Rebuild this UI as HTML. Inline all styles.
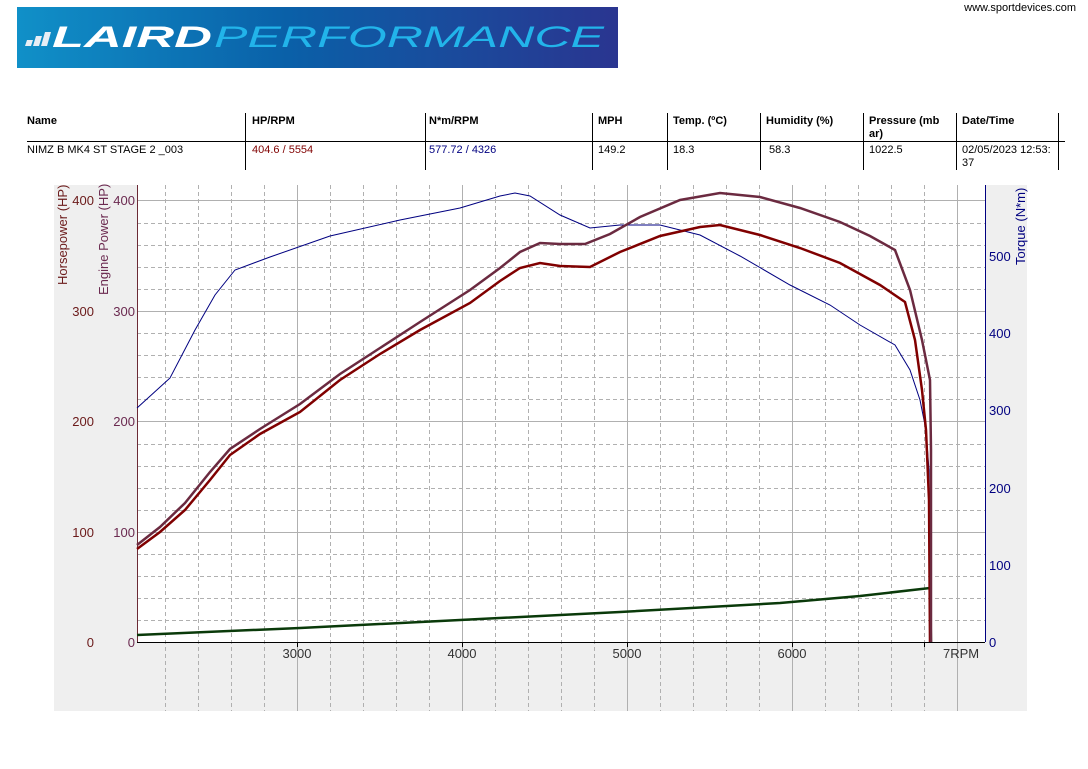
<!DOCTYPE html>
<html><head><meta charset="utf-8"><style>
body{margin:0;background:#fff;width:1088px;height:764px;overflow:hidden;font-family:"Liberation Sans",Arial,sans-serif;}
</style></head><body>
<svg width="1088" height="764" viewBox="0 0 1088 764" xmlns="http://www.w3.org/2000/svg" font-family="Liberation Sans, Arial, sans-serif">
<defs><linearGradient id="lg" x1="0" x2="1" y1="0" y2="0"><stop offset="0" stop-color="#1090c8"/><stop offset="0.45" stop-color="#0a60a8"/><stop offset="1" stop-color="#2a3590"/></linearGradient></defs>
<rect x="17" y="7" width="601" height="61" fill="url(#lg)"/>
<g fill="#e8eef5"><polygon points="25,46 31,46 33,40 27,40"/><polygon points="33,46 39,46 42,36 36,36"/><polygon points="41,46 47,46 51,32 45,32"/></g>
<text x="52" y="47" font-size="30" font-weight="bold" font-style="italic" fill="#ffffff" textLength="160" lengthAdjust="spacingAndGlyphs">LAIRD</text>
<text x="214" y="47" font-size="30" font-style="italic" fill="#22b4ea" textLength="390" lengthAdjust="spacingAndGlyphs">PERFORMANCE</text>
<text x="1076" y="11" font-size="11" fill="#000" text-anchor="end">www.sportdevices.com</text>
<g font-size="11" fill="#000">
<g font-weight="bold"><text x="27" y="124">Name</text><text x="252" y="124">HP/RPM</text><text x="429" y="124">N*m/RPM</text><text x="598" y="124">MPH</text><text x="673" y="124">Temp. (ºC)</text><text x="766" y="124">Humidity (%)</text><text x="869" y="124">Pressure (mb</text><text x="869" y="137">ar)</text><text x="962" y="124">Date/Time</text></g>
<text x="27" y="153">NIMZ B MK4 ST STAGE 2 _003</text><text x="252" y="153" fill="#800000">404.6 / 5554</text><text x="429" y="153" fill="#000080">577.72 / 4326</text><text x="598" y="153">149.2</text><text x="673" y="153">18.3</text><text x="769" y="153">58.3</text><text x="869" y="153">1022.5</text><text x="962" y="153">02/05/2023 12:53:</text><text x="962" y="166">37</text>
</g>
<line x1="27" y1="141.5" x2="1065" y2="141.5" stroke="#000"/>
<g stroke="#000"><line x1="245.5" y1="113" x2="245.5" y2="170"/><line x1="425.5" y1="113" x2="425.5" y2="170"/><line x1="592.5" y1="113" x2="592.5" y2="170"/><line x1="667.5" y1="113" x2="667.5" y2="170"/><line x1="760.5" y1="113" x2="760.5" y2="170"/><line x1="863.5" y1="113" x2="863.5" y2="170"/><line x1="956.5" y1="113" x2="956.5" y2="170"/><line x1="1058.5" y1="113" x2="1058.5" y2="170"/></g>
<rect x="54" y="185" width="973" height="526" fill="#efefef"/>
<rect x="137" y="185" width="848" height="457" fill="#fff"/>
<g stroke="#b0b0b0" stroke-dasharray="4,3">
<line x1="165.5" y1="185" x2="165.5" y2="711"/><line x1="198.5" y1="185" x2="198.5" y2="711"/><line x1="231.5" y1="185" x2="231.5" y2="711"/><line x1="264.5" y1="185" x2="264.5" y2="711"/>
<line x1="330.5" y1="185" x2="330.5" y2="711"/><line x1="363.5" y1="185" x2="363.5" y2="711"/><line x1="396.5" y1="185" x2="396.5" y2="711"/><line x1="429.5" y1="185" x2="429.5" y2="711"/>
<line x1="495.5" y1="185" x2="495.5" y2="711"/><line x1="528.5" y1="185" x2="528.5" y2="711"/><line x1="561.5" y1="185" x2="561.5" y2="711"/><line x1="594.5" y1="185" x2="594.5" y2="711"/>
<line x1="660.5" y1="185" x2="660.5" y2="711"/><line x1="693.5" y1="185" x2="693.5" y2="711"/><line x1="726.5" y1="185" x2="726.5" y2="711"/><line x1="759.5" y1="185" x2="759.5" y2="711"/>
<line x1="825.5" y1="185" x2="825.5" y2="711"/><line x1="858.5" y1="185" x2="858.5" y2="711"/><line x1="891.5" y1="185" x2="891.5" y2="711"/><line x1="924.5" y1="185" x2="924.5" y2="711"/>
<line x1="137" y1="620.5" x2="985" y2="620.5"/><line x1="137" y1="598.5" x2="985" y2="598.5"/><line x1="137" y1="576.5" x2="985" y2="576.5"/><line x1="137" y1="554.5" x2="985" y2="554.5"/>
<line x1="137" y1="510.5" x2="985" y2="510.5"/><line x1="137" y1="488.5" x2="985" y2="488.5"/><line x1="137" y1="466.5" x2="985" y2="466.5"/><line x1="137" y1="444.5" x2="985" y2="444.5"/>
<line x1="137" y1="399.5" x2="985" y2="399.5"/><line x1="137" y1="377.5" x2="985" y2="377.5"/><line x1="137" y1="355.5" x2="985" y2="355.5"/><line x1="137" y1="333.5" x2="985" y2="333.5"/>
<line x1="137" y1="289.5" x2="985" y2="289.5"/><line x1="137" y1="267.5" x2="985" y2="267.5"/><line x1="137" y1="245.5" x2="985" y2="245.5"/><line x1="137" y1="223.5" x2="985" y2="223.5"/>
</g>
<g stroke="#b0b0b0"><line x1="297.5" y1="185" x2="297.5" y2="711"/><line x1="462.5" y1="185" x2="462.5" y2="711"/><line x1="627.5" y1="185" x2="627.5" y2="711"/><line x1="792.5" y1="185" x2="792.5" y2="711"/><line x1="957.5" y1="185" x2="957.5" y2="711"/>
<line x1="137" y1="532.5" x2="985" y2="532.5"/><line x1="137" y1="421.5" x2="985" y2="421.5"/><line x1="137" y1="311.5" x2="985" y2="311.5"/><line x1="137" y1="200.5" x2="985" y2="200.5"/></g>
<line x1="137.5" y1="185" x2="137.5" y2="642" stroke="#6b2a35"/>
<line x1="985.5" y1="185" x2="985.5" y2="642" stroke="#000080"/>
<line x1="137" y1="642.5" x2="985" y2="642.5" stroke="#000"/>
<g stroke="#000"><line x1="297.5" y1="642" x2="297.5" y2="647"/><line x1="462.5" y1="642" x2="462.5" y2="647"/><line x1="627.5" y1="642" x2="627.5" y2="647"/><line x1="792.5" y1="642" x2="792.5" y2="647"/><line x1="924.5" y1="642" x2="924.5" y2="647"/></g>
<g font-size="13" fill="#333"><text x="297" y="658" text-anchor="middle">3000</text><text x="462" y="658" text-anchor="middle">4000</text><text x="627" y="658" text-anchor="middle">5000</text><text x="792" y="658" text-anchor="middle">6000</text><text x="943" y="658">7RPM</text></g>
<g font-size="13" fill="#6b1a1a" text-anchor="end"><text x="94" y="647">0</text><text x="94" y="537">100</text><text x="94" y="426">200</text><text x="94" y="316">300</text><text x="94" y="205">400</text></g>
<g font-size="13" fill="#6b2a50" text-anchor="end"><text x="135" y="647">0</text><text x="135" y="537">100</text><text x="135" y="426">200</text><text x="135" y="316">300</text><text x="135" y="205">400</text></g>
<g font-size="13" fill="#000080"><text x="989" y="647">0</text><text x="989" y="570">100</text><text x="989" y="493">200</text><text x="989" y="415">300</text><text x="989" y="338">400</text><text x="989" y="261">500</text></g>
<text transform="translate(67,285) rotate(-90)" font-size="13" fill="#6b1a1a">Horsepower (HP)</text>
<text transform="translate(108,295) rotate(-90)" font-size="13" fill="#6b2a50">Engine Power (HP)</text>
<text transform="translate(1025,265) rotate(-90)" font-size="13" fill="#000080">Torque (N*m)</text>
<polyline fill="none" stroke="#0a3a0a" stroke-width="2.5" points="137,635 300,628 460,620 620,612 780,603 860,596 930,588 931,642"/>
<polyline fill="none" stroke="#000080" stroke-width="1" points="137,408 170,378 195,330 215,295 235,270 270,257 330,236 400,220 460,208 500,196 515,193 530,196 560,215 590,228 620,225 660,225 700,235 740,256 790,285 830,305 860,325 895,345 910,370 920,400 926,430 929,470 931,642"/>
<polyline fill="none" stroke="#800000" stroke-width="2.5" points="137,549 160,532 185,510 210,480 230,455 260,434 300,412 340,380 380,354 420,330 470,303 500,281 520,268 540,263 560,266 590,267 620,252 660,236 700,227 720,225 760,235 800,248 840,263 880,285 905,302 915,340 922,390 926,430 929,500 930,642"/>
<polyline fill="none" stroke="#6b2a40" stroke-width="2.5" points="137,545 160,527 185,503 210,472 230,449 260,429 300,404 340,374 380,348 420,322 470,290 500,268 520,252 540,243 560,244 585,244 610,234 640,217 680,200 720,193 760,197 800,208 840,222 870,236 895,250 910,290 922,340 930,380 931,450 931,642"/>
</svg>
</body></html>
